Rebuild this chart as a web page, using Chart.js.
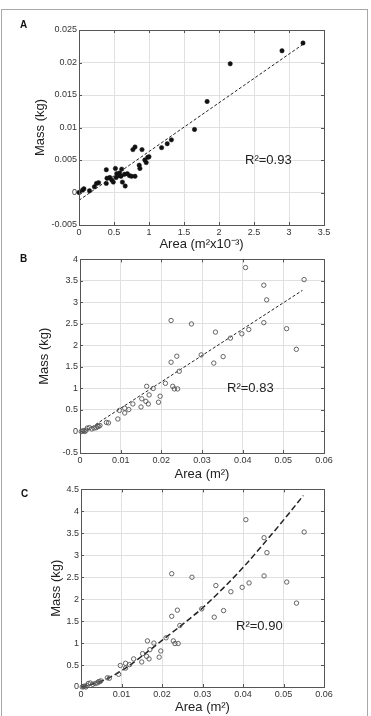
<!DOCTYPE html>
<html>
<head>
<meta charset="utf-8">
<script src="https://cdn.jsdelivr.net/npm/chart.js@4.4.1/dist/chart.umd.min.js"></script>
<style>
body{margin:0;width:371px;height:716px;overflow:hidden;background:#fff;font-family:"Liberation Sans",Arial,sans-serif;}
.panel{position:absolute;left:0;width:371px;}
.frame{position:absolute;left:1px;top:9px;width:365px;height:720px;border:1px solid #a8a8a8;}
.tag{position:absolute;font-weight:bold;font-size:10px;line-height:1;color:#111;}
.r2{position:absolute;font-size:13px;line-height:1;color:#222;}
</style>
</head>
<body>
<div class="frame"></div>
<div class="panel" style="top:0;height:252px"><canvas id="chartA" width="371" height="252"></canvas></div>
<div class="panel" style="top:252px;height:230px"><canvas id="chartB" width="371" height="230"></canvas></div>
<div class="panel" style="top:482px;height:234px"><canvas id="chartC" width="371" height="234"></canvas></div>
<div class="tag" style="left:20px;top:20px">A</div>
<div class="tag" style="left:20px;top:254px">B</div>
<div class="tag" style="left:21px;top:489px">C</div>
<div class="r2" style="left:245px;top:153px">R²=0.93</div>
<div class="r2" style="left:227px;top:381px">R²=0.83</div>
<div class="r2" style="left:236px;top:619px">R²=0.90</div>
<script>
// panel A : area (m2 x10-3) vs mass (kg)
const aArea = [0, 0.05, 0.07, 0.15, 0.22, 0.25, 0.28, 0.39, 0.39, 0.40, 0.44, 0.47, 0.49, 0.52, 0.53, 0.54, 0.57, 0.58, 0.60, 0.61, 0.62, 0.65, 0.66, 0.69, 0.72, 0.75, 0.80, 0.77, 0.80, 0.90, 0.86, 0.87, 0.94, 0.96, 0.98, 1.00, 1.18, 1.26, 1.32, 1.65, 1.83, 2.16, 2.90, 3.20];
const aMass = [0, 0.00036, 0.00057, 0.00026, 0.00088, 0.0014, 0.0015, 0.0014, 0.0035, 0.0022, 0.0023, 0.0019, 0.0016, 0.0037, 0.0023, 0.0029, 0.0026, 0.0030, 0.0025, 0.0036, 0.0016, 0.0028, 0.0010, 0.0029, 0.0026, 0.0025, 0.0025, 0.0066, 0.0070, 0.0066, 0.0042, 0.0037, 0.0050, 0.0046, 0.0054, 0.0055, 0.0069, 0.0075, 0.0081, 0.0097, 0.0140, 0.0198, 0.0218, 0.0230];
const aFitX = [0, 3.2];
const aFitY = [-0.0012, 0.0228];

// panels B and C : area (m2) vs mass (kg)
const bArea = [0.0003, 0.0006, 0.0009, 0.0012, 0.0015, 0.0018, 0.0023, 0.0029, 0.0035, 0.0040, 0.0043, 0.0046, 0.0049, 0.0065, 0.0070, 0.0093, 0.0097, 0.0110, 0.0110, 0.0120, 0.0130, 0.0150, 0.0152, 0.0162, 0.0164, 0.0168, 0.0170, 0.0180, 0.0193, 0.0197, 0.0210, 0.0224, 0.0224, 0.0228, 0.0232, 0.0238, 0.0240, 0.0244, 0.0274, 0.0298, 0.0329, 0.0333, 0.0352, 0.0370, 0.0398, 0.0407, 0.0415, 0.0452, 0.0452, 0.0459, 0.0508, 0.0532, 0.0551];
const bMass = [0, 0.01, 0.02, 0, 0.03, 0.08, 0.09, 0.06, 0.08, 0.09, 0.12, 0.12, 0.14, 0.21, 0.20, 0.29, 0.49, 0.43, 0.54, 0.51, 0.64, 0.57, 0.76, 0.70, 1.05, 0.64, 0.85, 1.00, 0.68, 0.82, 1.12, 2.58, 1.61, 1.05, 0.99, 1.75, 0.99, 1.40, 2.50, 1.78, 1.59, 2.31, 1.74, 2.17, 2.27, 3.81, 2.37, 2.53, 3.40, 3.06, 2.39, 1.91, 3.53];
const bFitX = [0.0007, 0.0547];
const bFitY = [-0.03, 3.28];
// power fit
const cFitX = [0, 0.005, 0.01, 0.015, 0.02, 0.025, 0.03, 0.035, 0.04, 0.045, 0.05, 0.0549];
const cFitY = [0, 0.13, 0.37, 0.70, 1.06, 1.42, 1.80, 2.24, 2.72, 3.25, 3.80, 4.36];

const FONT = '"Liberation Sans", Arial, sans-serif';
Chart.defaults.font.family = FONT;
Chart.defaults.color = '#333';

function pairs(xs, ys) {
  return xs.map((x, i) => ({x: x, y: ys[i]}));
}

// box round the plot + inward tick marks, matlab style
const boxPlugin = {
  id: 'box',
  afterDraw(chart) {
    const {ctx, chartArea: ca, scales} = chart;
    ctx.save();
    ctx.strokeStyle = '#555';
    ctx.lineWidth = 1;
    ctx.beginPath();
    scales.x.ticks.forEach(t => {
      const px = Math.round(scales.x.getPixelForValue(t.value)) + 0.5;
      ctx.moveTo(px, ca.bottom); ctx.lineTo(px, ca.bottom - 3);
      ctx.moveTo(px, ca.top); ctx.lineTo(px, ca.top + 3);
    });
    scales.y.ticks.forEach(t => {
      const py = Math.round(scales.y.getPixelForValue(t.value)) + 0.5;
      ctx.moveTo(ca.left, py); ctx.lineTo(ca.left + 3, py);
      ctx.moveTo(ca.right, py); ctx.lineTo(ca.right - 3, py);
    });
    ctx.stroke();
    ctx.strokeRect(Math.round(ca.left) + 0.5, Math.round(ca.top) + 0.5, Math.round(ca.width), Math.round(ca.height));
    ctx.restore();
  }
};

function makePanel(id, cfg) {
  const datasets = [{
    data: pairs(cfg.xs, cfg.ys),
    pointRadius: 2.2,
    pointBackgroundColor: cfg.filled ? '#111' : 'rgba(0,0,0,0)',
    pointBorderColor: cfg.filled ? '#111' : '#555',
    pointBorderWidth: cfg.filled ? 0.5 : 0.9,
    clip: false
  }, {
    data: pairs(cfg.fitX, cfg.fitY),
    showLine: true,
    pointRadius: 0,
    borderColor: '#222',
    borderWidth: cfg.dashW,
    borderDash: cfg.dash,
    cubicInterpolationMode: cfg.curve ? 'monotone' : 'default',
    fill: false
  }];
  return new Chart(document.getElementById(id), {
    type: 'scatter',
    data: {datasets: datasets},
    plugins: [boxPlugin],
    options: {
      responsive: false,
      animation: false,
      layout: {padding: {left: 0, right: 47, top: cfg.top, bottom: 0}},
      plugins: {legend: {display: false}, tooltip: {enabled: false}},
      scales: {
        x: {
          type: 'linear', min: cfg.xmin, max: cfg.xmax,
          ticks: {stepSize: cfg.xstep, padding: 2, font: {size: 9}, color: '#333',
            callback: v => String(+v.toFixed(3))},
          grid: {color: '#e0e0e0', drawTicks: false},
          border: {display: false},
          title: {display: true, text: cfg.xTitle, font: {size: 13}, color: '#222',
            padding: {top: 0, bottom: cfg.xTitlePad}},
          afterFit: s => { s.height = cfg.xH; }
        },
        y: {
          type: 'linear', min: cfg.ymin, max: cfg.ymax,
          ticks: {stepSize: cfg.ystep, padding: 2, font: {size: 9}, color: '#333',
            callback: v => String(+v.toFixed(3))},
          grid: {color: '#e0e0e0', drawTicks: false},
          border: {display: false},
          title: {display: true, text: 'Mass (kg)', font: {size: 13, lineHeight: 1}, color: '#222',
            padding: {top: cfg.yTitleX - 6.5, bottom: 0}},
          afterFit: s => { s.width = cfg.yW; }
        }
      }
    }
  });
}

makePanel('chartA', {
  xs: aArea, ys: aMass, filled: true, fitX: aFitX, fitY: aFitY,
  dash: [3, 2], dashW: 1, curve: false,
  xmin: 0, xmax: 3.5, xstep: 0.5, ymin: -0.005, ymax: 0.025, ystep: 0.005,
  xTitle: 'Area (m²x10⁻³)', xTitlePad: 0, xH: 27, yW: 79, yTitleX: 40, top: 30
});
makePanel('chartB', {
  xs: bArea, ys: bMass, filled: false, fitX: bFitX, fitY: bFitY,
  dash: [3, 2], dashW: 1, curve: false,
  xmin: 0, xmax: 0.06, xstep: 0.01, ymin: -0.5, ymax: 4, ystep: 0.5,
  xTitle: 'Area (m²)', xTitlePad: 0, xH: 29, yW: 80, yTitleX: 44.5, top: 7
});
makePanel('chartC', {
  xs: bArea, ys: bMass, filled: false, fitX: cFitX, fitY: cFitY,
  dash: [6, 3], dashW: 1.5, curve: true,
  xmin: 0, xmax: 0.06, xstep: 0.01, ymin: 0, ymax: 4.5, ystep: 0.5,
  xTitle: 'Area (m²)', xTitlePad: 1, xH: 29, yW: 81, yTitleX: 56, top: 7
});
</script>
</body>
</html>
